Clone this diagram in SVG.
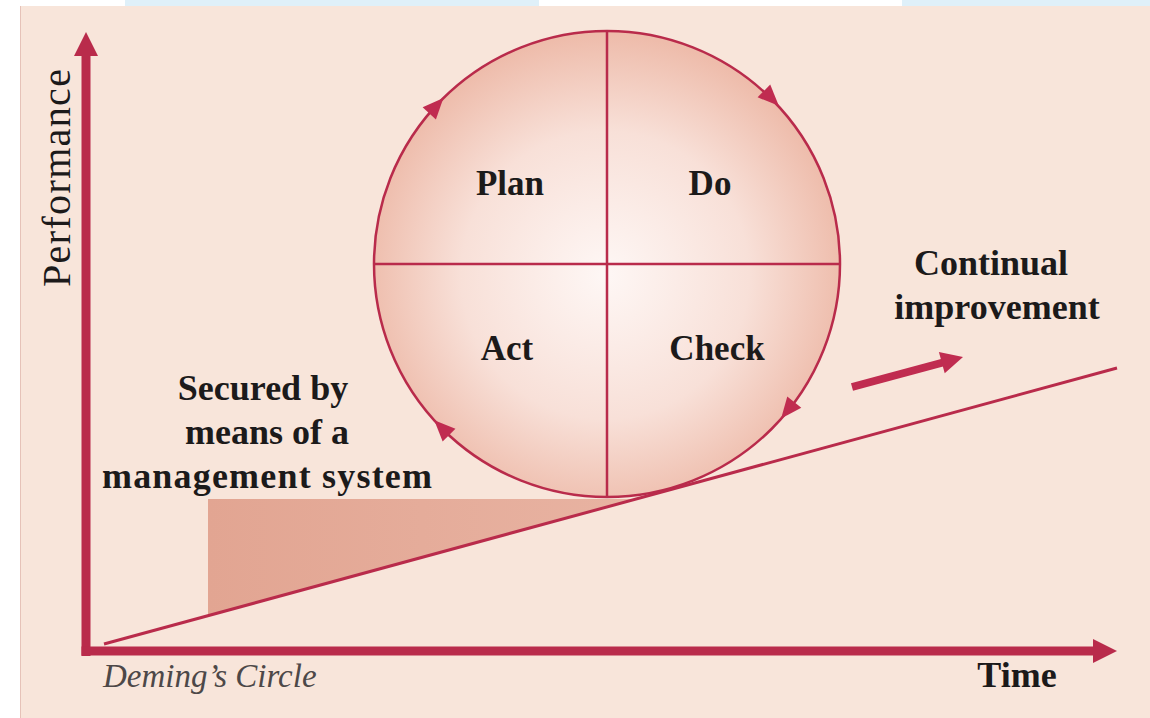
<svg xmlns="http://www.w3.org/2000/svg" width="1150" height="718" viewBox="0 0 1150 718">
  <defs>
    <radialGradient id="ballFill" cx="605" cy="275" r="240" gradientUnits="userSpaceOnUse">
      <stop offset="0" stop-color="#fef7f5"/>
      <stop offset="0.6" stop-color="#f8e0d8"/>
      <stop offset="1" stop-color="#eebcab"/>
    </radialGradient>
    <linearGradient id="shadeFill" x1="0" y1="0" x2="1" y2="0">
      <stop offset="0" stop-color="#e2a592"/>
      <stop offset="1" stop-color="#e8b3a2"/>
    </linearGradient>
    <marker id="axisHead" viewBox="0 0 24 24" markerUnits="userSpaceOnUse" markerWidth="24" markerHeight="24" refX="2" refY="12" orient="auto">
      <path d="M0,0 L24,12 L0,24 Z" fill="#b92b4b"/>
    </marker>
    <style>
      .lbl { font-family: "Liberation Serif", "Times New Roman", serif; font-weight: bold; font-size: 35px; fill: #1c1a1a; }
      .side { font-family: "Liberation Serif", "Times New Roman", serif; font-weight: bold; font-size: 36px; fill: #1c1a1a; }
      .axisline { stroke: #b92b4b; stroke-width: 9; fill: none; }
      .crim { stroke: #b92b4b; fill: none; }
      .tri { fill: #c02c50; }
    </style>
  </defs>

  <g id="background">
    <rect x="0" y="0" width="1150" height="718" fill="#ffffff"/>
    <rect x="125" y="0" width="414" height="7" fill="#dff0f9"/>
    <rect x="902" y="0" width="248" height="7" fill="#dff0f9"/>
    <rect x="20" y="6" width="1130" height="712" fill="#f8e5da"/>
    <line x1="20.5" y1="6" x2="20.5" y2="718" stroke="#e6c2b8" stroke-width="1"/>
  </g>

  <g id="secured-area">
    <polygon points="208,499 636,499 208,616" fill="url(#shadeFill)"/>
  </g>

  <g id="pdca-circle">
    <circle cx="607" cy="264" r="233" fill="url(#ballFill)" stroke="#b92b4b" stroke-width="2.5"/>
    <line x1="607" y1="31" x2="607" y2="497" class="crim" stroke-width="2.5"/>
    <line x1="374" y1="264" x2="840" y2="264" class="crim" stroke-width="2.5"/>
    <path class="tri" d="M11,0 L-10,-9 L-10,9 Z" transform="translate(436,106) rotate(-47.6)"/>
    <path class="tri" d="M11,0 L-10,-9 L-10,9 Z" transform="translate(771,98) rotate(44.7)"/>
    <path class="tri" d="M11,0 L-10,-9 L-10,9 Z" transform="translate(788,410) rotate(128.9)"/>
    <path class="tri" d="M11,0 L-10,-9 L-10,9 Z" transform="translate(442,428) rotate(225.2)"/>
  </g>

  <g id="label-plan"><text class="lbl" x="510" y="195" text-anchor="middle">Plan</text></g>
  <g id="label-do"><text class="lbl" x="710" y="195" text-anchor="middle">Do</text></g>
  <g id="label-act"><text class="lbl" x="507" y="360" text-anchor="middle">Act</text></g>
  <g id="label-check"><text class="lbl" x="717" y="360" text-anchor="middle">Check</text></g>

  <g id="label-secured">
    <text class="side" x="263" y="400" text-anchor="middle">Secured by</text>
    <text class="side" x="267" y="444" text-anchor="middle">means of a</text>
    <text class="side" x="267" y="488" text-anchor="middle" textLength="330">management system</text>
  </g>

  <g id="label-continual">
    <text class="side" x="991" y="275" text-anchor="middle">Continual</text>
    <text class="side" x="997" y="319" text-anchor="middle">improvement</text>
  </g>

  <g id="label-performance">
    <text x="70" y="178" transform="rotate(-90 70 178)" text-anchor="middle" font-family="'Liberation Serif', 'Times New Roman', serif" font-size="40" textLength="218" fill="#1c1a1a">Performance</text>
  </g>

  <g id="label-time">
    <text class="side" x="1017" y="687" text-anchor="middle">Time</text>
  </g>

  <g id="label-deming">
    <text x="103" y="687" font-family="'Liberation Serif', 'Times New Roman', serif" font-style="italic" font-size="33" fill="#4d4848">Deming’s Circle</text>
  </g>

  <g id="connectors">
    <line class="axisline" x1="86" y1="656" x2="86" y2="54" marker-end="url(#axisHead)"/>
    <line class="axisline" x1="81.5" y1="651" x2="1095" y2="651" marker-end="url(#axisHead)"/>
    <line x1="104" y1="644" x2="1117" y2="368" stroke="#b92b4b" stroke-width="3"/>
    <line x1="852" y1="387" x2="943" y2="362.5" stroke="#c02c50" stroke-width="8"/>
    <polygon points="963,357 944.7,373.3 938.9,352.1" fill="#c02c50"/>
  </g>
</svg>
